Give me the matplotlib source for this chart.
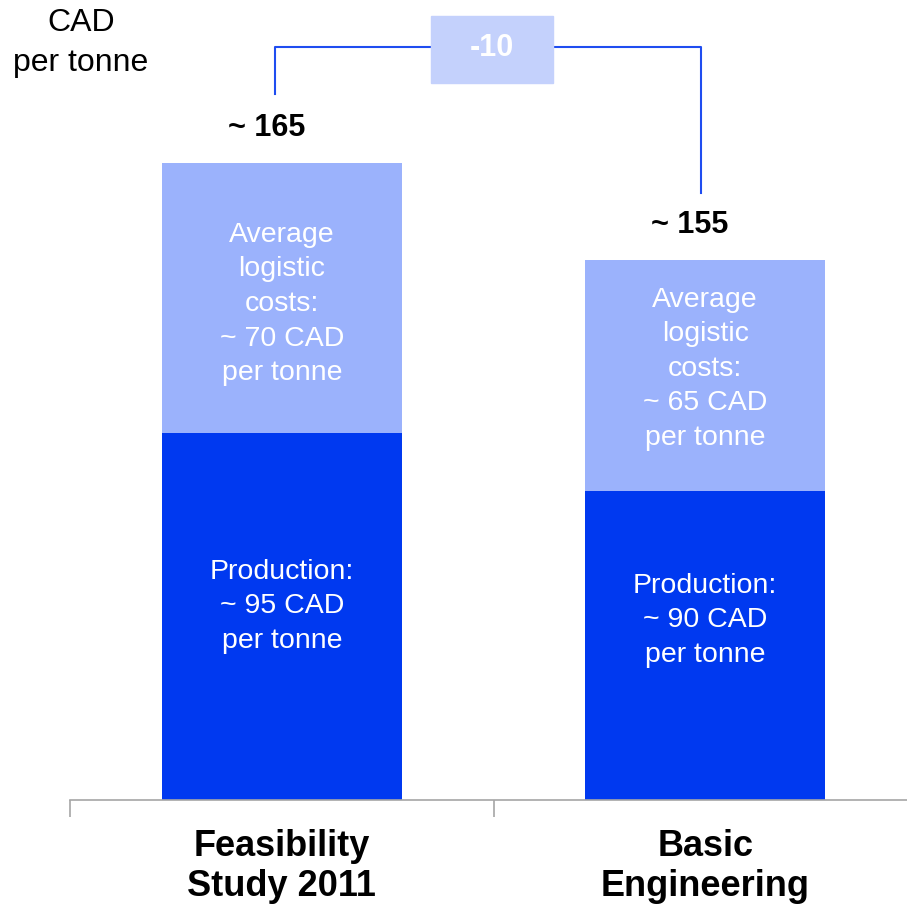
import matplotlib.pyplot as plt
from matplotlib.patches import Rectangle

plt.rcParams['font.family'] = ['Liberation Sans', 'DejaVu Sans']

# data
categories = ['Feasibility\nStudy 2011', 'Basic\nEngineering']
production = [95, 80]        # bar heights as drawn
logistics = [70, 60]
production_labels = ['Production:\n~ 95 CAD\nper tonne', 'Production:\n~ 90 CAD\nper tonne']
logistics_labels = ['Average\nlogistic\ncosts:\n~ 70 CAD\nper tonne',
                    'Average\nlogistic\ncosts:\n~ 65 CAD\nper tonne']
total_labels = ['~ 165', '~ 155']
delta_label = '-10'

dark = '#0039F0'
light = '#9BB2FC'
box_col = '#C4D1FC'
line_col = '#1F4DF0'

fig = plt.figure(figsize=(9.07, 9.07), dpi=100)
scale = 3.86  # px per unit
ax = fig.add_axes([70 / 907, 107 / 907, 847 / 907, 800 / 907])
ax.set_xlim(-0.5, 1.5)
ax.set_ylim(0, 800 / scale)

x = range(len(categories))
w = 0.567
ax.bar(x, production, width=w, color=dark, zorder=2)
ax.bar(x, logistics, width=w, bottom=production, color=light, zorder=2)

# labels inside the segments
prod_off = [2.7, 6.6]
log_off = [-1.5, 1.7]
for i in x:
    ax.text(i, production[i] / 2 + prod_off[i], production_labels[i], ha='center', va='center',
            color='white', fontsize=20.5, linespacing=1.43)
    ax.text(i, production[i] + logistics[i] / 2 + log_off[i], logistics_labels[i], ha='center',
            va='center', color='white', fontsize=20.5, linespacing=1.43)
    top = production[i] + logistics[i]
    ax.text(i - 0.036, top + 9, total_labels[i], ha='center', va='center',
            fontsize=22, fontweight='bold', color='black')

# bracket showing the change
tops = [production[i] + logistics[i] for i in x]
yb = tops[0] + 30
ax.plot([-0.015, -0.015, 0.989, 0.989], [tops[0] + 18, yb, yb, tops[1] + 17.3],
        color=line_col, lw=1.5, clip_on=False, zorder=1)
ax.add_patch(Rectangle((0.353, tops[0] + 20.8), 0.287, 17.3, color=box_col, zorder=3, clip_on=False))
ax.text(0.4965, tops[0] + 29.8, delta_label, ha='center', va='center', color='white',
        fontsize=22, fontweight='bold', zorder=4)

# axis styling
for s in ['top', 'right', 'left']:
    ax.spines[s].set_visible(False)
ax.spines['bottom'].set_color('#A6A6A6')
ax.spines['bottom'].set_linewidth(1.2)
ax.set_yticks([])
ax.set_xticks([-0.5, 0.5, 1.5])
ax.set_xticklabels([])
ax.tick_params(axis='x', which='major', length=12, color='#A6A6A6', width=1.2)
ax.set_xticks(list(x), categories, minor=True)
ax.tick_params(axis='x', which='minor', length=0, pad=21, labelsize=26)
for lab in ax.get_xticklabels(minor=True):
    lab.set_fontweight('bold')
    lab.set_linespacing(1.17)

fig.text(81 / 907, 1 - 43 / 907, 'CAD\nper tonne', ha='center', va='center', fontsize=23,
         linespacing=1.45)

fig.savefig('out.png', dpi=100)
